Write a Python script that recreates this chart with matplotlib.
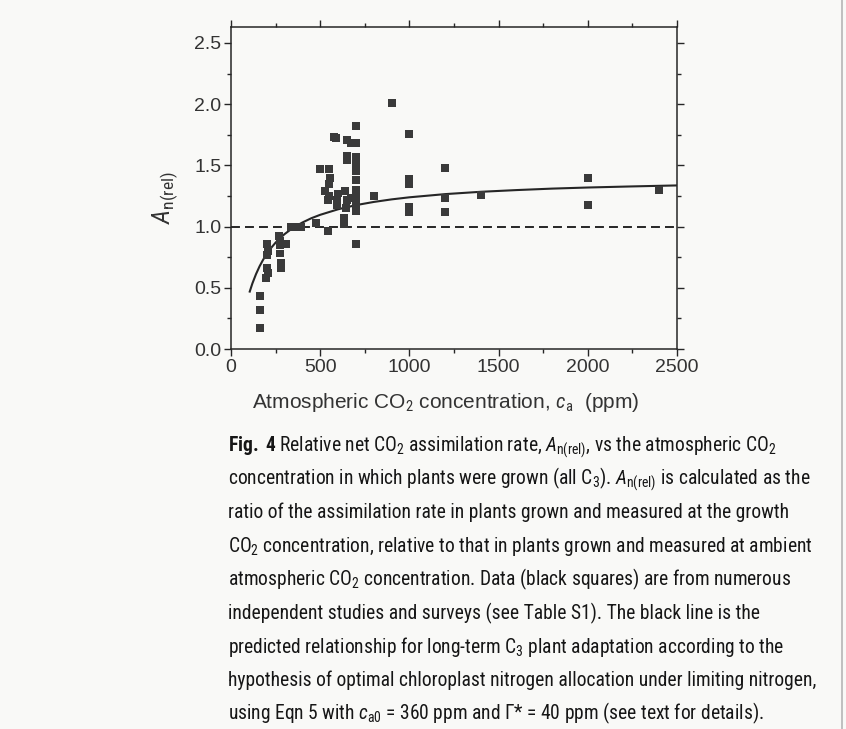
import matplotlib
matplotlib.use('Agg')
import matplotlib.pyplot as plt
from matplotlib import font_manager as fm
from matplotlib.lines import Line2D

# ---------------- data ----------------
x_obs = [160, 160, 160,
         200, 210, 200, 200, 205, 195,
         270, 275, 275, 310, 275, 280, 280,
         335, 365, 395,
         475, 545,
         500, 550, 555, 550, 525, 550, 545,
         575, 590,
         600, 595, 595,
         650, 650, 650, 640, 650, 645, 635, 635,
         670, 675,
         700, 700, 700, 700, 700, 700, 700, 700, 700, 700, 700,
         800, 900, 1000, 1000, 1000, 1000, 1000,
         1200, 1200, 1200, 1400, 2000, 2000, 2400]
y_obs = [0.43, 0.32, 0.17,
         0.86, 0.80, 0.77, 0.66, 0.62, 0.58,
         0.92, 0.88, 0.85, 0.86, 0.78, 0.70, 0.66,
         1.00, 1.00, 1.00,
         1.03, 0.96,
         1.47, 1.47, 1.40, 1.35, 1.29, 1.25, 1.22,
         1.73, 1.72,
         1.27, 1.22, 1.18,
         1.71, 1.58, 1.54, 1.29, 1.22, 1.15, 1.07, 1.02,
         1.68, 1.23,
         1.82, 1.68, 1.57, 1.51, 1.45, 1.38, 1.30, 1.24, 1.19, 1.13, 0.86,
         1.25, 2.01, 1.76, 1.39, 1.35, 1.16, 1.12,
         1.48, 1.23, 1.12, 1.26, 1.40, 1.18, 1.30]

curve_x = [105, 120, 140, 160, 180, 200, 225, 250, 275, 300, 330, 360, 400, 450,
           500, 600, 700, 800, 900, 1000, 1200, 1400, 1600, 1800, 2000, 2250, 2500]
curve_y = [0.469, 0.536, 0.611, 0.675, 0.729, 0.776, 0.826, 0.869, 0.905, 0.938,
           0.971, 1.000, 1.033, 1.068, 1.096, 1.141, 1.175, 1.201, 1.222, 1.239,
           1.265, 1.284, 1.298, 1.310, 1.319, 1.328, 1.336]

ref_level = 1.0

x_ticks = [0, 500, 1000, 1500, 2000, 2500]
x_tick_labels = ['0', '500', '1000', '1500', '2000', '2500']
y_ticks = [0.0, 0.5, 1.0, 1.5, 2.0, 2.5]
y_tick_labels = ['0.0', '0.5', '1.0', '1.5', '2.0', '2.5']

x_label = r'Atmospheric CO$_2$ concentration, $c_{\mathrm{a}}$  (ppm)'
y_label = r'$A_{\mathrm{n(rel)}}$'

caption_lines = [
    r'$\mathbf{Fig.}$ $\mathbf{4}$ Relative net CO$_2$ assimilation rate, $A_{\mathrm{n(rel)}}$, vs the atmospheric CO$_2$',
    r'concentration in which plants were grown (all C$_3$). $A_{\mathrm{n(rel)}}$ is calculated as the',
    r'ratio of the assimilation rate in plants grown and measured at the growth',
    r'CO$_2$ concentration, relative to that in plants grown and measured at ambient',
    r'atmospheric CO$_2$ concentration. Data (black squares) are from numerous',
    r'independent studies and surveys (see Table S1). The black line is the',
    r'predicted relationship for long-term C$_3$ plant adaptation according to the',
    r'hypothesis of optimal chloroplast nitrogen allocation under limiting nitrogen,',
    r'using Eqn 5 with $c_{\mathrm{a0}}$ = 360 ppm and Γ* = 40 ppm (see text for details).',
]

# ---------------- fonts ----------------
avail = {f.name for f in fm.fontManager.ttflist}
cap_font = next((f for f in ['Roboto Condensed', 'Open Sans Condensed',
                             'Liberation Sans Narrow', 'Roboto', 'Open Sans',
                             'Noto Sans']
                 if f in avail), 'DejaVu Sans')
chart_font = 'Liberation Sans' if 'Liberation Sans' in avail else 'DejaVu Sans'

plt.rcParams['mathtext.fontset'] = 'custom'
plt.rcParams['mathtext.rm'] = cap_font
plt.rcParams['mathtext.it'] = cap_font + ':italic'
plt.rcParams['mathtext.bf'] = cap_font + ':bold'

W, H = 846, 729
bg = '#f9f9f7'
ink = '#262626'

fig = plt.figure(figsize=(W / 100, H / 100), dpi=100, facecolor=bg)
L, R, T, B = 231, 677, 27, 349
ax = fig.add_axes([L / W, 1 - B / H, (R - L) / W, (B - T) / H])
ax.set_facecolor(bg)

ax.scatter(x_obs, y_obs, marker='s', s=33, color='#3a3a3a', edgecolors='none',
           zorder=3)
ax.plot(curve_x, curve_y, color=ink, lw=1.5, zorder=2)
ax.axhline(ref_level, color=ink, lw=1.4, ls=(0, (4.6, 2.6)), zorder=1)

ax.set_xlim(0, 2500)
ax.set_ylim(0, 2.63)
ax.set_xticks(x_ticks)
ax.set_xticklabels(x_tick_labels)
ax.set_yticks(y_ticks)
ax.set_yticklabels(y_tick_labels)
ax.set_xticks([250, 750, 1250, 1750, 2250], minor=True)
ax.set_yticks([0.25, 0.75, 1.25, 1.75, 2.25], minor=True)

ax.tick_params(which='both', direction='out', top=True, right=True,
               color=ink, width=1.0)
ax.tick_params(which='major', length=5, labelsize=14, labelcolor='#333333',
               pad=2)
ax.tick_params(which='minor', length=2.8)
for lab in ax.get_xticklabels() + ax.get_yticklabels():
    lab.set_family(chart_font)
for s in ax.spines.values():
    s.set_color(ink)
    s.set_linewidth(1.1)

fig.text(165 / W, 1 - 198 / H, y_label, rotation=90, ha='center', va='center',
         fontsize=18, color='#333333')
xl = fig.text(446 / W, 1 - 402 / H, x_label, ha='center', va='center',
              fontsize=14, color='#333333', family=chart_font)

# caption
y0 = 451
dy = 33.6
cap_texts = []
for i, line in enumerate(caption_lines):
    cap_texts.append(fig.text(228 / W, 1 - (y0 + i * dy) / H, line, ha='left',
                              va='baseline', fontsize=14, color='#161616',
                              family=cap_font))

# fit caption width (line 8 spans ~592 px in the reference) and x label (~388 px)
renderer = fig.canvas.get_renderer()
w8 = cap_texts[7].get_window_extent(renderer).width
fs = 14 * 592.0 / w8
for t in cap_texts:
    t.set_fontsize(fs)
wx = xl.get_window_extent(renderer).width
xl.set_fontsize(14 * 388.0 / wx)

# scan edge on the right
fig.add_artist(Line2D([842 / W, 842 / W], [0, 1], color='#b5b5b5', lw=1.2))

fig.savefig('out.png', dpi=100, facecolor=bg)
